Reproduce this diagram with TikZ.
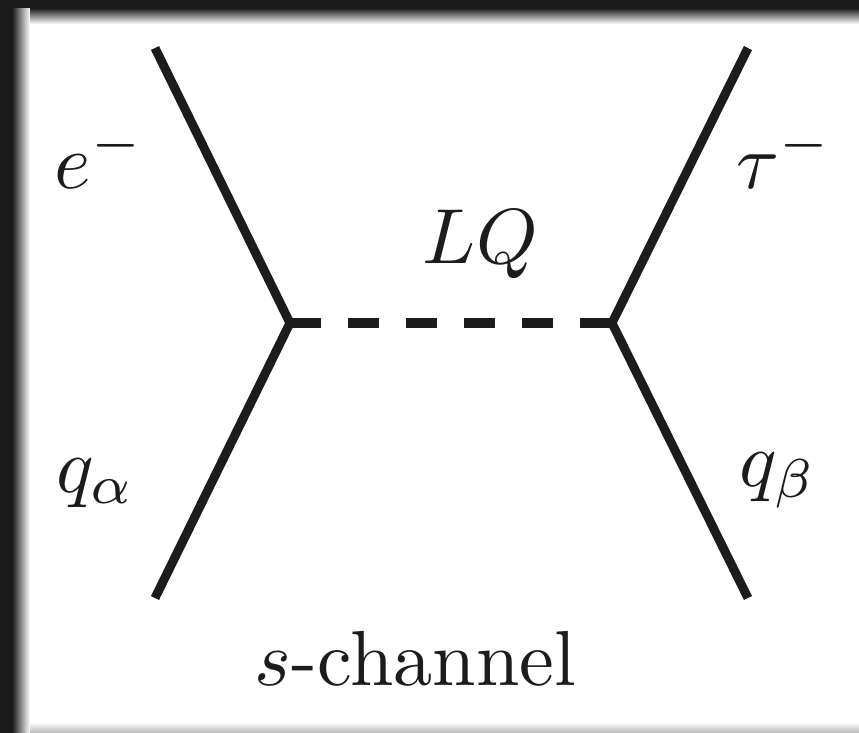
\documentclass[tikz,border=0pt]{standalone}
\usepackage{amsmath,amssymb}
\usepackage{xcolor}
\usepackage{tikz}
\usetikzlibrary{positioning,calc}
\definecolor{feyn@frame}{RGB}{26,26,26}
\definecolor{feyn@line}{RGB}{28,28,28}
\tikzset{
  feyn/.style={
    x=0.128pt, y=-0.128pt,
    line width=1.2pt,
    every node/.style={inner sep=0pt, outer sep=0pt}
  },
  fermion/.style={draw=feyn@line, line width=1.15pt, line join=miter},
  scalar/.style={draw=feyn@line, line width=1.25pt,
    dash pattern=on 3.97pt off 3.46pt},
  plabel/.style={anchor=base west, text=feyn@line},
  fcaption/.style={anchor=base west, text=feyn@line}
}

\begin{document}
\begin{tikzpicture}[feyn]
\useasboundingbox (0,0) rectangle (859,733);
% Dark frame with soft shadow (left, top, bottom)
\fill[white] (0,0) rectangle (859,733);
\shade[top color=white, bottom color=black!28] (0,722) rectangle (859,733);
\fill[feyn@frame] (0,0) rectangle (859,8);
\shade[top color=feyn@frame, bottom color=white] (0,8) rectangle (859,24);
\fill[feyn@frame] (0,0) rectangle (12,733);
\shade[left color=feyn@frame, right color=white] (12,8) rectangle (30,733);

% Vertices and external legs
\coordinate (vl) at (290,323);
\coordinate (vr) at (612,323);
\coordinate (eIn) at (155,48);
\coordinate (qIn) at (155,598);
\coordinate (tauOut) at (748,48);
\coordinate (qOut) at (748,598);

\draw[fermion] (eIn) -- (vl) -- (qIn);
\draw[fermion] (tauOut) -- (vr) -- (qOut);
% Leptoquark propagator
\draw[scalar] (vl) -- (vr);

% Particle labels
\node[plabel] (elab) at (55,188) {$e^-$};
\node[plabel] (qalab) at (56,492) {$q_\alpha$};
\node[plabel] (taulab) at (737,188) {$\tau^-$};
\node[plabel] (qblab) at (740,486) {$q_\beta$};
\node[plabel] (lqlab) at (423,263) {$LQ$};

% Channel caption
\node[fcaption] (chan) at (255,685) {$s$-channel};
\end{tikzpicture}
\end{document}
